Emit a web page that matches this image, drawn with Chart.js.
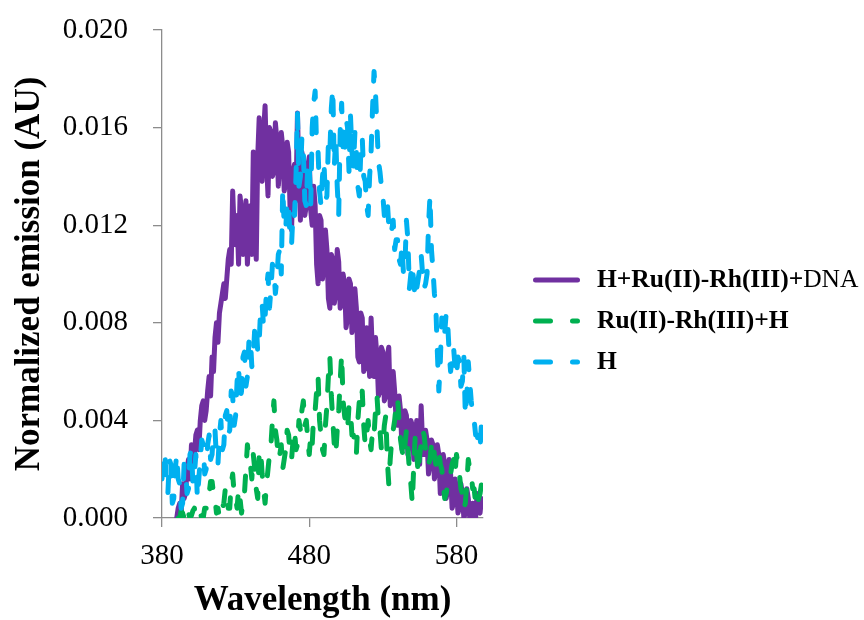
<!DOCTYPE html>
<html>
<head>
<meta charset="utf-8">
<title>Emission spectra</title>
<script src="https://cdn.jsdelivr.net/npm/chart.js@4.4.1/dist/chart.umd.min.js"></script>
<style>
  html, body { margin: 0; padding: 0; background: #fff; }
  canvas { display: block; }
</style>
</head>
<body>
<canvas id="emissionChart" width="864" height="620"></canvas>
<script>
// wavelength grid (nm), 1 nm steps
const wavelengths = [
  380, 381, 382, 383, 384, 385, 386, 387, 388, 389,
  390, 391, 392, 393, 394, 395, 396, 397, 398, 399,
  400, 401, 402, 403, 404, 405, 406, 407, 408, 409,
  410, 411, 412, 413, 414, 415, 416, 417, 418, 419,
  420, 421, 422, 423, 424, 425, 426, 427, 428, 429,
  430, 431, 432, 433, 434, 435, 436, 437, 438, 439,
  440, 441, 442, 443, 444, 445, 446, 447, 448, 449,
  450, 451, 452, 453, 454, 455, 456, 457, 458, 459,
  460, 461, 462, 463, 464, 465, 466, 467, 468, 469,
  470, 471, 472, 473, 474, 475, 476, 477, 478, 479,
  480, 481, 482, 483, 484, 485, 486, 487, 488, 489,
  490, 491, 492, 493, 494, 495, 496, 497, 498, 499,
  500, 501, 502, 503, 504, 505, 506, 507, 508, 509,
  510, 511, 512, 513, 514, 515, 516, 517, 518, 519,
  520, 521, 522, 523, 524, 525, 526, 527, 528, 529,
  530, 531, 532, 533, 534, 535, 536, 537, 538, 539,
  540, 541, 542, 543, 544, 545, 546, 547, 548, 549,
  550, 551, 552, 553, 554, 555, 556, 557, 558, 559,
  560, 561, 562, 563, 564, 565, 566, 567, 568, 569,
  570, 571, 572, 573, 574, 575, 576, 577, 578, 579,
  580, 581, 582, 583, 584, 585, 586, 587, 588, 589,
  590, 591, 592, 593, 594, 595, 596, 597, 598
];

// H + Ru(II)-Rh(III) + DNA
const hRuRhDna = [
  null, null, null, null, null, null, null, null, null, null,
  0.0000, 0.0004, 0.0006, 0.0002, 0.0014, 0.0008, 0.0010, 0.0020, 0.0024, 0.0016,
  0.0030, 0.0022, 0.0026, 0.0034, 0.0036, 0.0028, 0.0040, 0.0046, 0.0048, 0.0040,
  0.0044, 0.0052, 0.0058, 0.0050, 0.0066, 0.0060, 0.0074, 0.0080, 0.0072, 0.0084,
  0.0088, 0.0092, 0.0096, 0.0090, 0.0098, 0.0106, 0.0110, 0.0104, 0.0134, 0.0118,
  0.0112, 0.0124, 0.0104, 0.0132, 0.0126, 0.0108, 0.0110, 0.0130, 0.0104, 0.0116,
  0.0128, 0.0108, 0.0150, 0.0126, 0.0106, 0.0148, 0.0164, 0.0140, 0.0138, 0.0158,
  0.0169, 0.0146, 0.0132, 0.0160, 0.0158, 0.0140, 0.0142, 0.0162, 0.0155, 0.0136,
  0.0146, 0.0158, 0.0152, 0.0134, 0.0138, 0.0154, 0.0150, 0.0126, 0.0118, 0.0142,
  0.0145, 0.0130, 0.0166, 0.0140, 0.0122, 0.0150, 0.0146, 0.0124, 0.0128, 0.0144,
  0.0148, 0.0126, 0.0120, 0.0136, 0.0128, 0.0104, 0.0096, 0.0124, 0.0122, 0.0098,
  0.0104, 0.0118, 0.0110, 0.0090, 0.0086, 0.0108, 0.0106, 0.0088, 0.0092, 0.0110,
  0.0105, 0.0086, 0.0088, 0.0100, 0.0096, 0.0078, 0.0082, 0.0098, 0.0096, 0.0076,
  0.0080, 0.0094, 0.0086, 0.0066, 0.0064, 0.0084, 0.0082, 0.0060, 0.0062, 0.0078,
  0.0070, 0.0058, 0.0082, 0.0066, 0.0058, 0.0074, 0.0066, 0.0050, 0.0052, 0.0070,
  0.0068, 0.0048, 0.0050, 0.0066, 0.0070, 0.0046, 0.0048, 0.0060, 0.0052, 0.0040,
  0.0038, 0.0050, 0.0044, 0.0028, 0.0030, 0.0044, 0.0042, 0.0026, 0.0032, 0.0040,
  0.0038, 0.0024, 0.0028, 0.0040, 0.0036, 0.0022, 0.0046, 0.0030, 0.0026, 0.0036,
  0.0032, 0.0018, 0.0022, 0.0032, 0.0030, 0.0016, 0.0020, 0.0030, 0.0026, 0.0010,
  0.0014, 0.0026, 0.0022, 0.0008, 0.0012, 0.0024, 0.0018, 0.0004, 0.0006, 0.0016,
  0.0012, 0.0002, 0.0004, 0.0014, 0.0010, 0.0000, 0.0002, 0.0012, 0.0008, 0.0000,
  0.0000, 0.0006, 0.0004, 0.0000, 0.0010, 0.0004, 0.0002, 0.0008, 0.0006
];

// Ru(II)-Rh(III) + H
const ruRhH = [
  null, null, null, null, null, null, null, null, null, null,
  null, 0.0000, 0.0000, 0.0003, 0.0002, 0.0000, 0.0000, 0.0004, 0.0002, 0.0000,
  0.0001, 0.0003, 0.0004, 0.0000, 0.0000, 0.0002, 0.0002, 0.0000, 0.0000, 0.0004,
  0.0004, 0.0008, 0.0010, 0.0015, 0.0015, 0.0010, 0.0008, 0.0002, 0.0004, 0.0000,
  0.0000, 0.0004, 0.0006, 0.0012, 0.0012, 0.0004, 0.0004, 0.0014, 0.0018, 0.0010,
  0.0008, 0.0004, 0.0012, 0.0008, 0.0002, 0.0006, 0.0010, 0.0020, 0.0030, 0.0024,
  0.0022, 0.0016, 0.0026, 0.0020, 0.0012, 0.0008, 0.0026, 0.0028, 0.0018, 0.0012,
  0.0006, 0.0014, 0.0020, 0.0026, 0.0030, 0.0040, 0.0048, 0.0036, 0.0032, 0.0024,
  0.0026, 0.0030, 0.0020, 0.0024, 0.0028, 0.0036, 0.0034, 0.0026, 0.0024, 0.0032,
  0.0036, 0.0028, 0.0030, 0.0040, 0.0036, 0.0044, 0.0048, 0.0038, 0.0040, 0.0032,
  0.0026, 0.0034, 0.0030, 0.0042, 0.0044, 0.0052, 0.0058, 0.0040, 0.0034, 0.0028,
  0.0026, 0.0038, 0.0046, 0.0058, 0.0066, 0.0050, 0.0040, 0.0030, 0.0026, 0.0036,
  0.0044, 0.0056, 0.0067, 0.0048, 0.0042, 0.0038, 0.0036, 0.0046, 0.0044, 0.0034,
  0.0034, 0.0030, 0.0026, 0.0040, 0.0048, 0.0046, 0.0052, 0.0038, 0.0030, 0.0034,
  0.0040, 0.0032, 0.0028, 0.0036, 0.0034, 0.0044, 0.0050, 0.0040, 0.0036, 0.0028,
  0.0030, 0.0038, 0.0042, 0.0024, 0.0014, 0.0024, 0.0032, 0.0036, 0.0040, 0.0046,
  0.0049, 0.0040, 0.0032, 0.0028, 0.0024, 0.0030, 0.0036, 0.0028, 0.0020, 0.0014,
  0.0006, 0.0022, 0.0034, 0.0026, 0.0018, 0.0026, 0.0030, 0.0036, 0.0034, 0.0028,
  0.0028, 0.0022, 0.0024, 0.0030, 0.0032, 0.0026, 0.0022, 0.0026, 0.0028, 0.0022,
  0.0020, 0.0014, 0.0008, 0.0010, 0.0014, 0.0018, 0.0018, 0.0022, 0.0024, 0.0018,
  0.0026, 0.0022, 0.0018, 0.0012, 0.0010, 0.0004, 0.0006, 0.0014, 0.0024, 0.0020,
  0.0018, 0.0012, 0.0012, 0.0006, 0.0004, 0.0008, 0.0010, 0.0014, 0.0018
];

// H alone
const hOnly = [
  0.0016, 0.0026, 0.0027, 0.0012, 0.0010, 0.0024, 0.0022, 0.0006, 0.0008, 0.0020,
  0.0026, 0.0016, 0.0014, 0.0004, 0.0006, 0.0022, 0.0020, 0.0010, 0.0012, 0.0026,
  0.0028, 0.0014, 0.0018, 0.0026, 0.0008, 0.0016, 0.0024, 0.0032, 0.0030, 0.0018,
  0.0020, 0.0030, 0.0034, 0.0024, 0.0026, 0.0036, 0.0036, 0.0024, 0.0022, 0.0034,
  0.0040, 0.0028, 0.0030, 0.0042, 0.0044, 0.0034, 0.0036, 0.0052, 0.0050, 0.0038,
  0.0042, 0.0056, 0.0062, 0.0048, 0.0052, 0.0066, 0.0068, 0.0054, 0.0058, 0.0072,
  0.0074, 0.0062, 0.0066, 0.0078, 0.0080, 0.0068, 0.0072, 0.0086, 0.0088, 0.0078,
  0.0082, 0.0094, 0.0100, 0.0086, 0.0094, 0.0104, 0.0102, 0.0092, 0.0098, 0.0108,
  0.0110, 0.0100, 0.0135, 0.0120, 0.0118, 0.0130, 0.0128, 0.0114, 0.0112, 0.0126,
  0.0124, 0.0140, 0.0166, 0.0136, 0.0140, 0.0156, 0.0150, 0.0130, 0.0128, 0.0146,
  0.0144, 0.0128, 0.0160, 0.0170, 0.0175, 0.0152, 0.0150, 0.0134, 0.0128, 0.0140,
  0.0146, 0.0130, 0.0132, 0.0154, 0.0150, 0.0168, 0.0176, 0.0144, 0.0156, 0.0136,
  0.0124, 0.0158, 0.0170, 0.0150, 0.0148, 0.0164, 0.0160, 0.0142, 0.0165, 0.0150,
  0.0144, 0.0158, 0.0150, 0.0136, 0.0132, 0.0150, 0.0156, 0.0140, 0.0138, 0.0128,
  0.0124, 0.0140, 0.0150, 0.0168, 0.0183, 0.0174, 0.0160, 0.0146, 0.0142, 0.0136,
  0.0132, 0.0124, 0.0128, 0.0130, 0.0120, 0.0116, 0.0118, 0.0122, 0.0110, 0.0114,
  0.0114, 0.0106, 0.0104, 0.0112, 0.0100, 0.0104, 0.0122, 0.0114, 0.0094, 0.0100,
  0.0104, 0.0096, 0.0090, 0.0094, 0.0098, 0.0102, 0.0108, 0.0100, 0.0094, 0.0096,
  0.0100, 0.0120, 0.0132, 0.0110, 0.0102, 0.0092, 0.0086, 0.0068, 0.0052, 0.0064,
  0.0082, 0.0074, 0.0076, 0.0084, 0.0080, 0.0068, 0.0060, 0.0066, 0.0070, 0.0062,
  0.0058, 0.0066, 0.0064, 0.0054, 0.0056, 0.0066, 0.0042, 0.0050, 0.0064, 0.0056,
  0.0048, 0.0042, 0.0040, 0.0034, 0.0034, 0.0030, 0.0028, 0.0040, 0.0036
];

const xTicks = [380, 480, 580];
const yTicks = [0, 0.004, 0.008, 0.012, 0.016, 0.020];

const seriesLabels = ['H+Ru(II)-Rh(III)+DNA', 'Ru(II)-Rh(III)+H', 'H'];
const seriesColors = ['#7030a0', '#00b050', '#00b0f0'];

const serif = '"Liberation Serif", "Times New Roman", serif';

function toPoints(values) {
  return wavelengths.map((w, i) => ({ x: w, y: values[i] }));
}

function lineSet(idx, values, dashed, order) {
  return {
    label: seriesLabels[idx],
    data: toPoints(values),
    borderColor: seriesColors[idx],
    backgroundColor: seriesColors[idx],
    borderWidth: 5,
    borderDash: dashed ? [15, 20] : [],
    borderCapStyle: 'round',
    borderJoinStyle: 'round',
    pointRadius: 0,
    tension: 0,
    spanGaps: false,
    order: order
  };
}

// legend drawn by hand so "DNA" can stay in regular weight
const sideLegend = {
  id: 'sideLegend',
  afterDraw(chart) {
    const ctx = chart.ctx;
    const rows = [
      { parts: [['H+Ru(II)-Rh(III)+', 'bold'], ['DNA', 'normal']], dash: [] },
      { parts: [['Ru(II)-Rh(III)+H', 'bold']], dash: [15, 22] },
      { parts: [['H', 'bold']], dash: [15, 22] }
    ];
    ctx.save();
    rows.forEach((row, i) => {
      const y = 280 + i * 41;
      ctx.beginPath();
      ctx.setLineDash(row.dash);
      ctx.lineCap = 'round';
      ctx.lineWidth = 5;
      ctx.strokeStyle = seriesColors[i];
      ctx.moveTo(535.5, y);
      ctx.lineTo(577.5, y);
      ctx.stroke();
      ctx.setLineDash([]);

      let x = 597;
      ctx.fillStyle = '#000';
      ctx.textBaseline = 'middle';
      row.parts.forEach(([txt, weight]) => {
        ctx.font = weight + ' 25.5px ' + serif;
        ctx.fillText(txt, x, y);
        x += ctx.measureText(txt).width;
      });
    });
    ctx.restore();
  }
};

const ctx = document.getElementById('emissionChart').getContext('2d');
new Chart(ctx, {
  type: 'line',
  data: {
    datasets: [
      lineSet(0, hRuRhDna, false, 3),
      lineSet(1, ruRhH, true, 2),
      lineSet(2, hOnly, true, 1)
    ]
  },
  options: {
    responsive: false,
    animation: false,
    devicePixelRatio: 1,
    layout: { padding: { left: 0, top: 30, right: 381, bottom: 0 } },
    plugins: {
      legend: { display: false },
      tooltip: { enabled: false }
    },
    scales: {
      x: {
        type: 'linear',
        min: 380,
        max: 598,
        afterFit: s => { s.height = 102; },
        afterBuildTicks: s => { s.ticks = xTicks.map(v => ({ value: v })); },
        border: { display: true, color: '#8c8c8c', width: 1.3 },
        grid: { drawOnChartArea: false, drawTicks: true, tickLength: 9, color: '#8c8c8c', lineWidth: 1.3 },
        ticks: {
          color: '#000',
          padding: 12,
          maxRotation: 0,
          font: { family: serif, size: 29 },
          callback: v => String(v)
        },
        title: {
          display: true,
          text: 'Wavelength (nm)',
          color: '#000',
          font: { family: serif, size: 35, weight: 'bold' },
          padding: { top: 0, bottom: -2 }
        }
      },
      y: {
        type: 'linear',
        min: 0,
        max: 0.020,
        afterFit: s => {
          s.width = 162;
          // the wide label padding should not push the plot top down
          s.paddingTop = 0;
          s.paddingBottom = 0;
        },
        afterBuildTicks: s => { s.ticks = yTicks.map(v => ({ value: v })); },
        border: { display: true, color: '#8c8c8c', width: 1.3 },
        grid: { drawOnChartArea: false, drawTicks: true, tickLength: 9, color: '#8c8c8c', lineWidth: 1.3 },
        ticks: {
          color: '#000',
          padding: 25,
          font: { family: serif, size: 29 },
          callback: v => v.toFixed(3)
        },
        title: {
          display: true,
          text: 'Normalized emission (AU)',
          color: '#000',
          font: { family: serif, size: 35, weight: 'bold' },
          padding: { top: 9, bottom: 0 }
        }
      }
    }
  },
  plugins: [sideLegend]
});
</script>
</body>
</html>
